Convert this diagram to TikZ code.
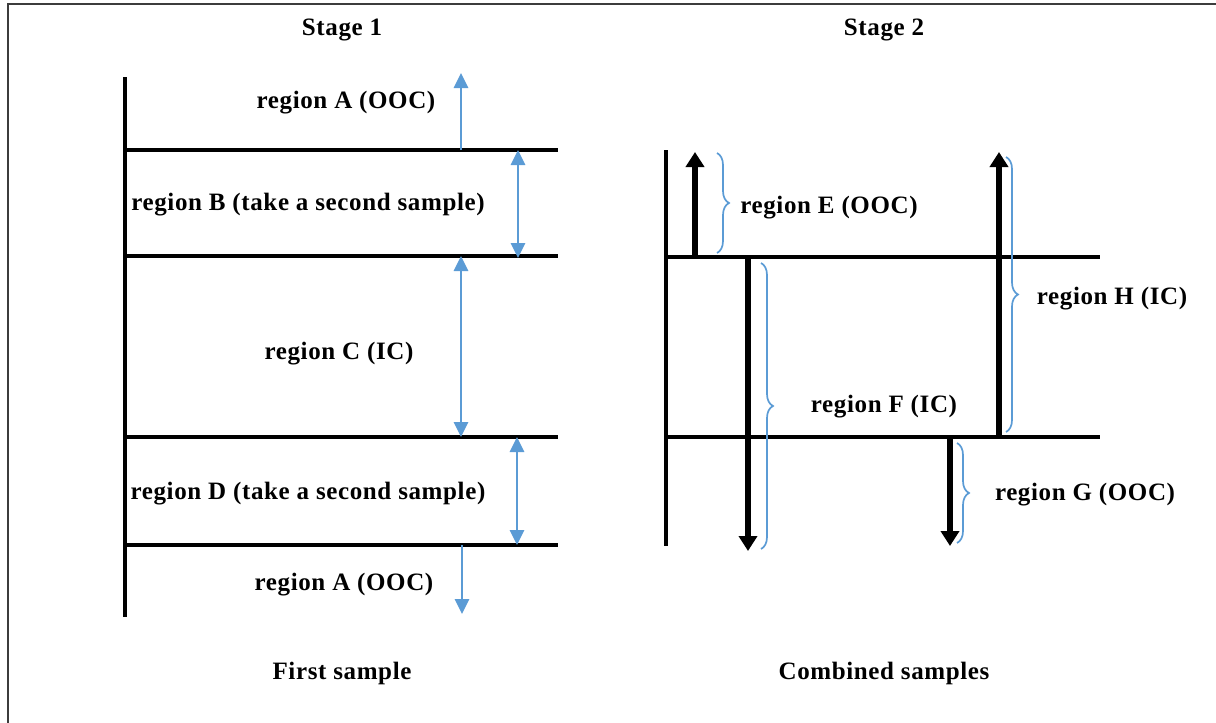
\documentclass[tikz,border=0pt]{standalone}
\usepackage{fontspec}
\setmainfont{Liberation Serif}
\usetikzlibrary{arrows.meta,decorations.pathreplacing}
\definecolor{officeblue}{RGB}{91,155,213}
\definecolor{framegray}{RGB}{60,60,60}
\tikzset{
  axis/.style={line width=3.6pt,black},
  level/.style={line width=3.6pt,black},
  bluearrow/.style={line width=2.8pt,officeblue,-{Triangle[width=14pt,length=15pt]}},
  bluedouble/.style={line width=2.8pt,officeblue,{Triangle[width=14pt,length=15pt]}-{Triangle[width=14pt,length=15pt]}},
  blackarrow/.style={line width=5.5pt,black,-{Triangle[width=18pt,length=15pt]}},
  bracket/.style={officeblue,line width=1.7pt,decorate,decoration={brace,amplitude=12pt}},
  lbl/.style={font=\fontsize{25}{28}\selectfont\bfseries\addfontfeature{LetterSpace=2.5},inner sep=0pt},
}
\begin{document}
\begin{tikzpicture}[x=1pt,y=-1pt]
\useasboundingbox (0,0) rectangle (1216,723);
% frame
\draw[framegray,line width=2.2pt] (8,723) -- (8,4) -- (1216,4);

% ---------- Stage 1 ----------
\node[lbl] (s1) at (342,30) {Stage 1};
\node[lbl] (fs) at (342,673) {First sample};
\draw[axis] (125,77) coordinate (ax1t) -- (125,617) coordinate (ax1b);
\foreach \n/\y in {l1/150,l2/256,l3/437,l4/545}{
  \draw[level] (125,\y) coordinate (\n w) -- (558,\y) coordinate (\n e);
}
\coordinate (aTop) at (461,73);
\coordinate (aBot) at (462,614);
\draw[bluearrow] (461,150) -- (aTop);
\draw[bluedouble] (518,150) -- (518,258);
\draw[bluedouble] (461,256) -- (461,437);
\draw[bluedouble] (517,437) -- (517,545);
\draw[bluearrow] (462,545) -- (aBot);
\node[lbl] (rA1) at (346,103) {region A (OOC)};
\node[lbl] (rB) at (308,205) {region B (take a second sample)};
\node[lbl] (rC) at (339,354) {region C (IC)};
\node[lbl] (rD) at (308,494) {region D (take a second sample)};
\node[lbl] (rA2) at (344,585) {region A (OOC)};

% ---------- Stage 2 ----------
\node[lbl] (s2) at (884,30) {Stage 2};
\node[lbl] (cs) at (884,673) {Combined samples};
\draw[axis] (666,150) -- (666,546);
\draw[level] (666,257) -- (1100,257);
\draw[level] (666,437) -- (1100,437);
\draw[blackarrow] (695,257) -- (695,152);
\draw[blackarrow] (748,257) -- (748,551);
\draw[blackarrow] (950,437) -- (950,546);
\draw[blackarrow] (999,437) -- (999,152);
\draw[bracket] (717,153) -- (717,253);
\draw[bracket] (761,263) -- (761,549);
\draw[bracket] (957,443) -- (957,543);
\draw[bracket] (1006,157) -- (1006,432);
\node[lbl] (rE) at (829,208) {region E (OOC)};
\node[lbl] (rF) at (884,407) {region F (IC)};
\node[lbl] (rG) at (1085,495) {region G (OOC)};
\node[lbl] (rH) at (1112,299) {region H (IC)};
\end{tikzpicture}
\end{document}
